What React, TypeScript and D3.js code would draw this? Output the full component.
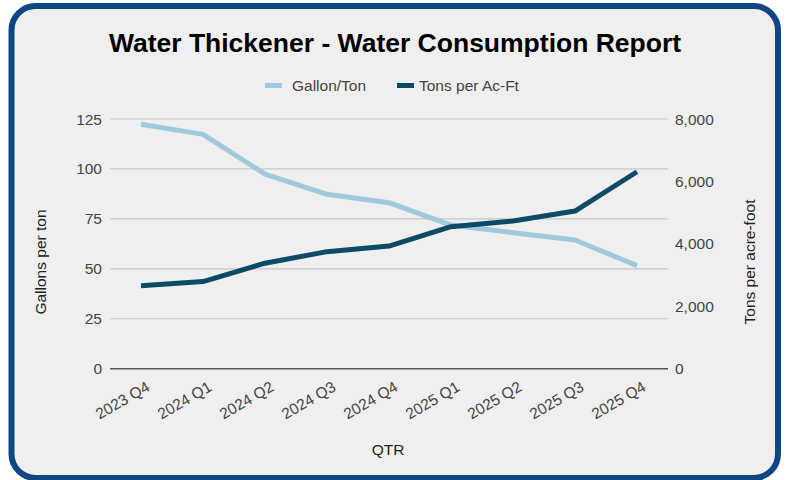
import React from "react";
import * as d3 from "d3";

const quarters = ["2023 Q4", "2024 Q1", "2024 Q2", "2024 Q3", "2024 Q4", "2025 Q1", "2025 Q2", "2025 Q3", "2025 Q4"];
const gallonPerTon = [122.4, 117.3, 97.4, 87.3, 83.1, 71.9, 68.1, 64.4, 51.6];
const tonsPerAcFt = [2660, 2790, 3380, 3750, 3930, 4550, 4730, 5050, 6310];
const leftTicks = [0, 25, 50, 75, 100, 125];
const rightTicks = [0, 2000, 4000, 6000, 8000];

const W = 788;
const H = 480;
const plot = { left: 110, right: 668, top: 119, bottom: 368.7 };
const FONT = "'Liberation Sans', Arial, sans-serif";
const LIGHT = "#9fcadc";
const DARK = "#0c4a66";
const FS = 15.5;

export default function App() {
  const x = d3.scaleBand<string>().domain(quarters).range([plot.left, plot.right]);
  const cx = (q: string) => (x(q) as number) + x.bandwidth() / 2;
  const yL = d3.scaleLinear().domain([0, 125]).range([plot.bottom, plot.top]);
  const yR = d3.scaleLinear().domain([0, 8000]).range([plot.bottom, plot.top]);

  const lineL = d3.line<number>().x((_, i) => cx(quarters[i])).y((d) => yL(d));
  const lineR = d3.line<number>().x((_, i) => cx(quarters[i])).y((d) => yR(d));
  const fmt = d3.format(",");

  return (
    <svg width={W} height={H} style={{ position: "absolute", left: 0, top: 0, background: "#fff" }} fontFamily={FONT}>
      <rect x={11.5} y={6} width={766.5} height={472} rx={24} ry={24} fill="#efefef" stroke="#0d4680" strokeWidth={6} />
      <text x={395} y={52} textAnchor="middle" fontSize={26.5} fontWeight="bold" fill="#000">
        Water Thickener - Water Consumption Report
      </text>
      {/* legend */}
      <rect x={265} y={83} width={17} height={5} fill={LIGHT} />
      <text x={292} y={91} fontSize={FS} fill="#444">Gallon/Ton</text>
      <rect x={397} y={83} width={17} height={5} fill={DARK} />
      <text x={419} y={91} fontSize={FS} fill="#444">Tons per Ac-Ft</text>

      {/* gridlines */}
      {leftTicks.map((t) => (
        <line key={"g" + t} x1={plot.left} x2={plot.right} y1={yL(t)} y2={yL(t)} stroke={t === 0 ? "#555" : "#c8c8c8"} strokeWidth={t === 0 ? 1.5 : 1.2} />
      ))}
      {leftTicks.map((t) => (
        <text key={"l" + t} x={102} y={yL(t) + 5.5} textAnchor="end" fontSize={FS} fill="#444">{t}</text>
      ))}
      {rightTicks.map((t) => (
        <text key={"r" + t} x={675} y={yR(t) + 5.5} textAnchor="start" fontSize={FS} fill="#444">{fmt(t)}</text>
      ))}
      <text transform={`translate(46,262) rotate(-90)`} textAnchor="middle" fontSize={FS} fill="#222">Gallons per ton</text>
      <text transform={`translate(755,262) rotate(-90)`} textAnchor="middle" fontSize={FS} fill="#222">Tons per acre-foot</text>

      {quarters.map((q) => (
        <text key={q} transform={`translate(${cx(q) + 10},${390}) rotate(-30)`} textAnchor="end" fontSize={FS} fill="#444">{q}</text>
      ))}
      <text x={388} y={455} textAnchor="middle" fontSize={FS} fill="#222">QTR</text>

      <path d={lineL(gallonPerTon) || ""} fill="none" stroke={LIGHT} strokeWidth={5} strokeLinejoin="round" />
      <path d={lineR(tonsPerAcFt) || ""} fill="none" stroke={DARK} strokeWidth={5} strokeLinejoin="round" />
    </svg>
  );
}
